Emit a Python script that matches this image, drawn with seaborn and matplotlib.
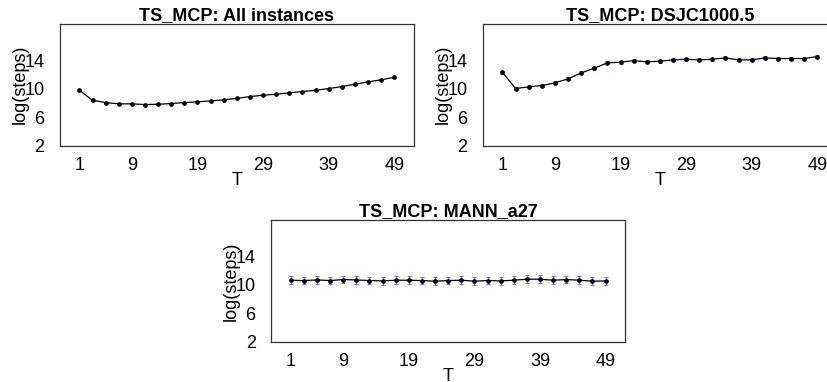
import numpy as np
import pandas as pd
import matplotlib
matplotlib.use("Agg")
import matplotlib.pyplot as plt
import seaborn as sns

T = list(range(1, 50, 2))
xticks = [1, 9, 19, 29, 39, 49]
yticks = [2, 6, 10, 14]

titles = ["TS_MCP: All instances", "TS_MCP: DSJC1000.5", "TS_MCP: MANN_a27"]

all_inst = [9.80, 8.40, 8.07, 7.89, 7.89, 7.79, 7.83, 7.93, 8.07, 8.17, 8.31, 8.45, 8.66,
            8.92, 9.11, 9.25, 9.44, 9.63, 9.81, 10.05, 10.33, 10.66, 11.00, 11.28, 11.65]
all_err = [0.08] * 25

dsjc = [12.36, 10.05, 10.29, 10.47, 10.85, 11.42, 12.26, 12.92, 13.68, 13.77, 14.00, 13.82, 13.91,
        14.10, 14.19, 14.10, 14.19, 14.38, 14.10, 14.10, 14.38, 14.29, 14.29, 14.29, 14.57]
dsjc_err = [0.2] * 25

mann = [10.67, 10.62, 10.71, 10.62, 10.76, 10.71, 10.62, 10.57, 10.67, 10.67, 10.62, 10.53, 10.62,
        10.67, 10.53, 10.62, 10.57, 10.67, 10.81, 10.81, 10.67, 10.76, 10.67, 10.53, 10.57]
mann_err = [0.55] * 25

series = [(all_inst, all_err), (dsjc, dsjc_err), (mann, mann_err)]

sns.set_style("white")
plt.rcParams['font.family'] = ['Liberation Sans', 'DejaVu Sans']
plt.rcParams['text.color'] = 'black'
plt.rcParams['axes.labelcolor'] = 'black'

fig = plt.figure(figsize=(8.28, 3.82), dpi=100)
positions = [
    [0.0721, 0.619, 0.4279, 0.318],
    [0.5830, 0.619, 0.4279, 0.318],
    [0.3273, 0.1055, 0.4279, 0.3186],
]

for (vals, errs), title, pos in zip(series, titles, positions):
    ax = fig.add_axes(pos)
    df = pd.DataFrame({"T": T, "v": vals, "e": errs})
    ax.errorbar(df["T"], df["v"], yerr=df["e"], fmt="none", ecolor="#4b4bff",
                elinewidth=0.6, capsize=1.2, capthick=0.6, zorder=2)
    sns.lineplot(data=df, x="T", y="v", ax=ax, color="black", linewidth=0.9,
                 marker="o", markersize=2.6, markeredgecolor="black", zorder=3)
    ax.set_xlim(-2, 52)
    ax.set_ylim(2, 19.16)
    ax.set_xticks(xticks)
    ax.set_xticklabels([str(t) for t in xticks])
    ax.set_yticks(yticks)
    ax.set_yticklabels([str(t) for t in yticks])
    ax.tick_params(axis="both", length=0, labelsize=13, colors="black")
    ax.tick_params(axis="y", pad=11)
    ax.tick_params(axis="x", pad=8)
    ax.set_xlabel("T", fontsize=13, labelpad=-1, color="black")
    ax.set_ylabel("log(steps)", fontsize=13, labelpad=-3, color="black")
    ax.set_title(title, fontsize=13, fontweight="bold", pad=3, color="black")
    for s in ax.spines.values():
        s.set_visible(True)
        s.set_color("#333333")
        s.set_linewidth(0.9)

fig.savefig("out.png", dpi=100)
